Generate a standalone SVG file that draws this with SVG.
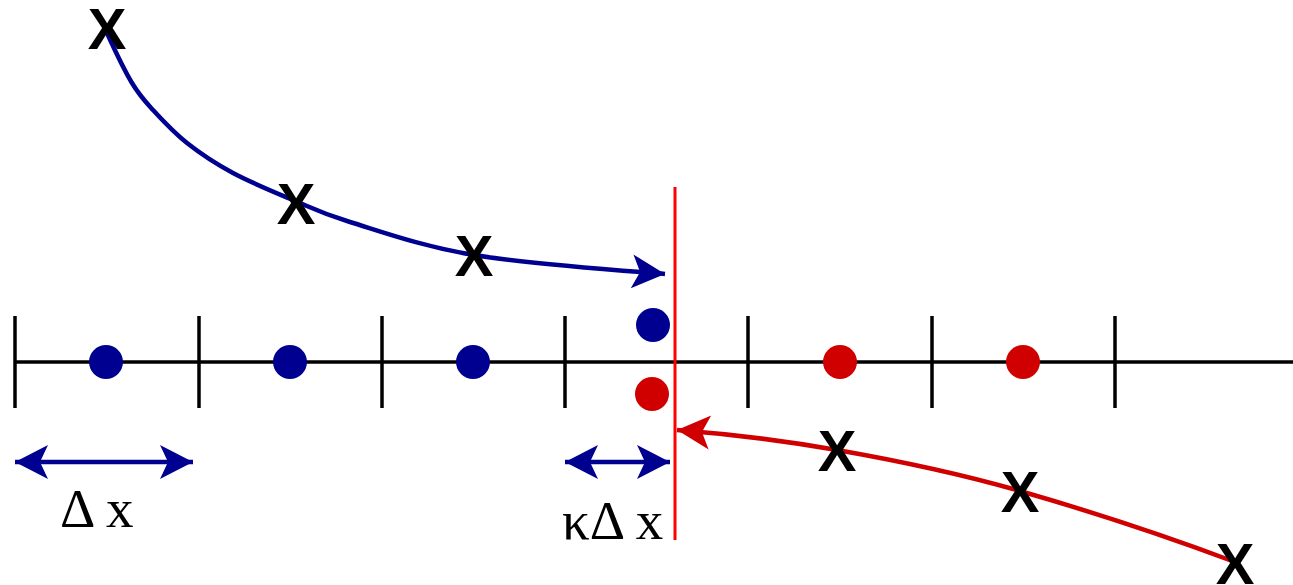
<svg xmlns="http://www.w3.org/2000/svg" width="1293" height="585" viewBox="0 0 1293 585">
<style>
.axis{stroke:#000;stroke-width:3.5;fill:none}
.blue{stroke:#000090;stroke-width:4.5;fill:none}
.red{stroke:#D00000;stroke-width:4.5;fill:none}
.bdot{fill:#000090}
.rdot{fill:#D00000}
.xm{font-family:"Liberation Sans",Arial,sans-serif;font-weight:bold;font-size:58px;fill:#000;text-anchor:middle}
.lbl{font-family:"Liberation Serif","Times New Roman",serif;font-size:55px;fill:#000}
</style>
<defs>
<marker id="ab" markerUnits="userSpaceOnUse" viewBox="-36 -20 38 40" refX="0" refY="0" markerWidth="38" markerHeight="40" orient="auto-start-reverse">
<path d="M0,0 L-33,-17 L-25,0 L-33,17 Z" fill="#000090"/>
</marker>
<marker id="ar" markerUnits="userSpaceOnUse" viewBox="-36 -20 38 40" refX="0" refY="0" markerWidth="38" markerHeight="40" orient="auto-start-reverse">
<path d="M0,0 L-33,-17 L-25,0 L-33,17 Z" fill="#D00000"/>
</marker>
</defs>
<g id="grid">
<line class="axis" x1="14" y1="362" x2="1293" y2="362" stroke-width="4"/>
<line class="axis" x1="15" y1="316" x2="15" y2="408"/>
<line class="axis" x1="199" y1="316" x2="199" y2="408"/>
<line class="axis" x1="382" y1="316" x2="382" y2="408"/>
<line class="axis" x1="565" y1="316" x2="565" y2="408"/>
<line class="axis" x1="748" y1="316" x2="748" y2="408"/>
<line class="axis" x1="932" y1="316" x2="932" y2="408"/>
<line class="axis" x1="1115" y1="316" x2="1115" y2="408"/>
</g>
<g id="interface"><line x1="675" y1="187" x2="675" y2="540" stroke="#FF0000" stroke-width="3"/></g>
<g id="blue-points">
<circle class="bdot" cx="106" cy="362" r="17"/>
<circle class="bdot" cx="290" cy="362" r="17"/>
<circle class="bdot" cx="473" cy="362" r="17"/>
<circle class="bdot" cx="653" cy="325" r="17"/>
</g>
<g id="red-points">
<circle class="rdot" cx="652" cy="394" r="17"/>
<circle class="rdot" cx="840" cy="362" r="17"/>
<circle class="rdot" cx="1023" cy="362" r="17"/>
</g>
<g id="connectors">
<path class="blue" marker-end="url(#ab)" d="M107,33 C115.3,51.3 124.3,70.2 132,83 C139.7,95.8 143.8,100 153,110 C162.2,120 173.7,132.5 187,143 C200.3,153.5 215.3,163.5 233,173 C250.7,182.5 273.5,191.8 293,200 C312.5,208.2 319.8,212.8 350,222 C380.2,231.2 421.5,246.3 474,255 C526.5,263.7 601.7,269 665,274"/>
<path class="red" marker-end="url(#ar)" d="M1235,562 C1163,535 1086,510 1020,491 C954,472 894,460 837,450 C780,440 730,434 677,430"/>
<line class="blue" x1="15" y1="462" x2="193" y2="462" marker-start="url(#ab)" marker-end="url(#ab)"/>
<line class="blue" x1="565" y1="462" x2="670" y2="462" marker-start="url(#ab)" marker-end="url(#ab)"/>
</g>
<g id="blue-marks">
<text class="xm" x="107" y="49">X</text>
<text class="xm" x="296" y="224">X</text>
<text class="xm" x="474" y="276">X</text>
</g>
<g id="red-marks">
<text class="xm" x="837" y="471">X</text>
<text class="xm" x="1020" y="512">X</text>
<text class="xm" x="1235" y="584">X</text>
</g>
<g id="labels">
<text class="lbl" x="60" y="527">Δ x</text>
<text class="lbl" x="562" y="539">κΔ x</text>
</g>
</svg>
